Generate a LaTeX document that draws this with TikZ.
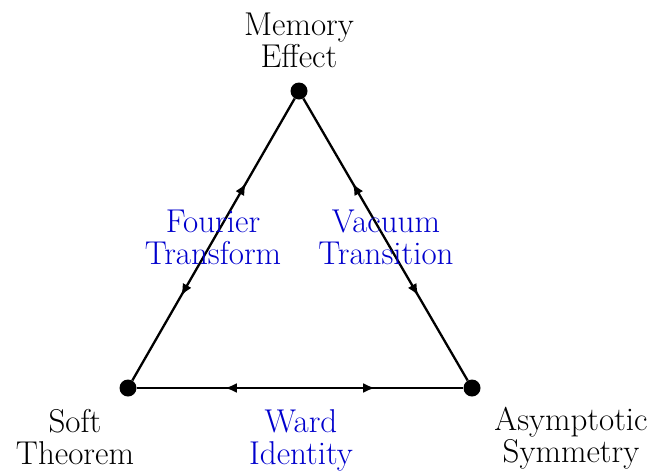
\documentclass[tikz,border=0pt]{standalone}
\usetikzlibrary{arrows.meta,decorations.markings}
\definecolor{lblue}{RGB}{0,0,205}
\begin{document}
\begin{tikzpicture}[x=1pt,y=-1pt,
  vertex/.style={circle,fill=black,inner sep=0pt,minimum size=17pt},
  lab/.style={align=center,inner sep=0pt,font=\fontsize{33}{32}\selectfont},
  blab/.style={lab,text=lblue},
  edge/.style={line width=2.3pt,postaction={decorate},
    decoration={markings,
      mark=at position #1 with {\arrowreversed{Latex[length=12pt,width=10pt]}},
      mark=at position 1-#1 with {\arrow{Latex[length=12pt,width=10pt]}}}}
]
\useasboundingbox (0,0) rectangle (653,472);
\node[vertex] (m) at (299,91) {};
\node[vertex] (s) at (128,388) {};
\node[vertex] (a) at (472,388) {};
\draw[edge=0.30] (s) -- (m);
\draw[edge=0.30] (m) -- (a);
\draw[edge=0.27] (s) -- (a);
\node[lab] (tm) at (299,40) {Memory\\Effect};
\node[lab] (ts) at (75,437) {Soft\\Theorem};
\node[lab] (ta) at (571,438) {Asymptotic\\Symmetry};
\node[blab] (tf) at (213,237) {Fourier\\Transform};
\node[blab] (tv) at (386,237) {Vacuum\\Transition};
\node[blab] (tw) at (301,440) {Ward\\Identity};
\end{tikzpicture}
\end{document}
